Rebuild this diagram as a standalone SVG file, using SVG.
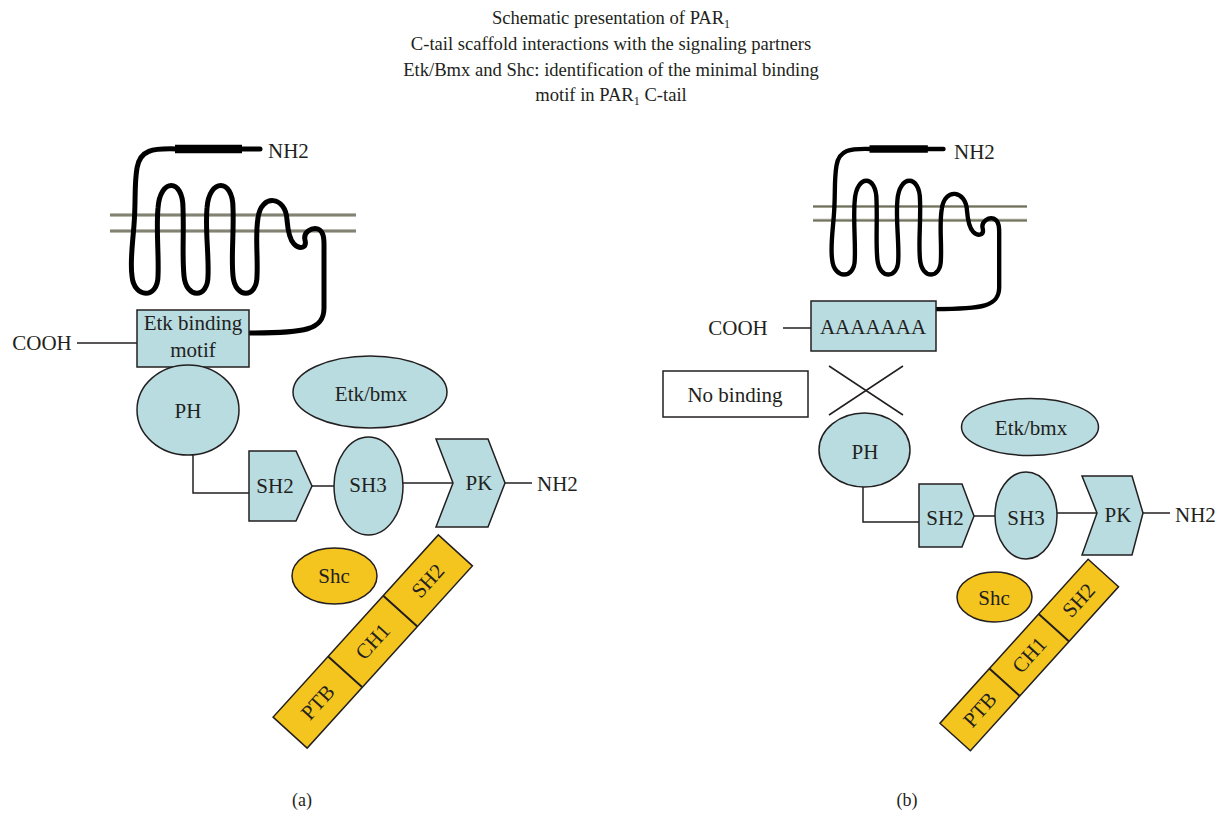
<svg xmlns="http://www.w3.org/2000/svg" xmlns:xlink="http://www.w3.org/1999/xlink" width="1222" height="822" viewBox="0 0 1222 822">
  <style>
    text { font-family: "Liberation Serif", "Times New Roman", serif; fill: #231f20; }
    .title { font-size: 18.6px; text-anchor: middle; }
    .lbl { font-size: 21px; text-anchor: middle; dominant-baseline: central; }
    .lbl-l { font-size: 21px; text-anchor: start; dominant-baseline: central; }
    .cap { font-size: 18px; text-anchor: middle; }
    .blue { fill: #b8dce0; stroke: #231f20; stroke-width: 1.5; }
    .yel { fill: #f5c51f; stroke: #231f20; stroke-width: 1.5; }
    .box { fill: #ffffff; stroke: #231f20; stroke-width: 1.5; }
    .wire { fill: none; stroke: #231f20; stroke-width: 1.5; }
    .div { fill: none; stroke: #231f20; stroke-width: 2; }
    .mem { fill: none; stroke: #a3a392; stroke-width: 3.5; }
    .mem-core { fill: none; stroke: #3a3a2c; stroke-width: 1; opacity: 0.6; }
    .tail { fill: none; stroke: #000; stroke-width: 5; stroke-linecap: round; stroke-linejoin: round; }
    .bar { fill: none; stroke: #000; stroke-width: 8.5; }
  </style>

  <defs>
    <!-- seven-pass receptor with membrane, drawn in panel (a) coordinates -->
    <g id="receptor">
      <path class="mem" d="M110 215 H356 M110 231 H356"/>
      <path class="mem-core" d="M110 215 H356 M110 231 H356"/>
      <path class="tail" d="M260 149 H240"/>
      <path class="bar" d="M242 149 H175"/>
      <path class="tail" d="M178 149
        C152 148 140 150 137 168
        C134 186 136 200 134 225
        C132 250 130 262 132 276
        C134 299 158 299 158 276
        C159 255 156 230 158 208
        C160 178 183 178 183 208
        C184 235 182 255 184 276
        C186 299 208 299 208 276
        C209 255 205 230 207 208
        C209 178 233 178 233 208
        C234 235 231 255 233 276
        C235 299 257 299 257 276
        C258 255 255 236 258 218
        C261 193 286 196 287 220
        C288 232 290 240 294 244
        C300 250 307 248 305 240
        C303 232 312 227 318 229
        C325 232 324 242 324 252
        L324 308
        C324 330 305 333 250 333"/>
    </g>
  </defs>

  <!-- title -->
  <g id="title">
    <text class="title" x="611" y="24">Schematic presentation of PAR<tspan font-size="12" dy="4">1</tspan></text>
    <text class="title" x="611" y="50">C-tail scaffold interactions with the signaling partners</text>
    <text class="title" x="611" y="76">Etk/Bmx and Shc: identification of the minimal binding</text>
    <text class="title" x="611" y="101">motif in PAR<tspan font-size="12" dy="4">1</tspan><tspan dy="-4"> C-tail</tspan></text>
  </g>

  <!-- connectors -->
  <g id="connectors">
    <!-- panel a -->
    <path class="wire" d="M77 343 H137"/>
    <path class="wire" d="M193 455 V493 H249"/>
    <path class="wire" d="M312 486 H334"/>
    <path class="wire" d="M403 483 H453"/>
    <path class="wire" d="M505 483 H532"/>
    <!-- panel b -->
    <path class="wire" d="M783 328 H811"/>
    <path class="wire" d="M863 487 V522 H919"/>
    <path class="wire" d="M974 516 H995"/>
    <path class="wire" d="M1057 513 H1097"/>
    <path class="wire" d="M1143 513 H1170"/>
    <path class="wire" d="M829 366 L903 415 M903 366 L829 415"/>
  </g>

  <!-- ===== panel (a) ===== -->
  <g id="a-receptor"><use xlink:href="#receptor" href="#receptor"/></g>
  <g id="a-nh2-top"><text class="lbl-l" x="268" y="151">NH2</text></g>
  <g id="a-cooh"><text class="lbl" x="42" y="343">COOH</text></g>
  <g id="a-motif">
    <rect class="blue" x="137" y="310" width="112" height="57"/>
    <text class="lbl" x="193" y="323">Etk binding</text>
    <text class="lbl" x="193" y="350">motif</text>
  </g>
  <g id="a-ph">
    <ellipse class="blue" cx="188" cy="410" rx="51" ry="45"/>
    <text class="lbl" x="188" y="411">PH</text>
  </g>
  <g id="a-etk">
    <ellipse class="blue" cx="370" cy="392" rx="77" ry="36"/>
    <text class="lbl" x="371" y="394">Etk/bmx</text>
  </g>
  <g id="a-sh2">
    <polygon class="blue" points="249,451 296,451 312,486 296,521 249,521"/>
    <text class="lbl" x="275" y="486">SH2</text>
  </g>
  <g id="a-sh3">
    <ellipse class="blue" cx="368.5" cy="486" rx="34.5" ry="49"/>
    <text class="lbl" x="368" y="485">SH3</text>
  </g>
  <g id="a-pk">
    <polygon class="blue" points="436,439 488,439 505,483 488,527 436,527 453,483"/>
    <text class="lbl" x="479" y="483">PK</text>
  </g>
  <g id="a-nh2"><text class="lbl-l" x="537" y="484">NH2</text></g>
  <g id="a-shc">
    <ellipse class="yel" cx="334.5" cy="576" rx="42.5" ry="28"/>
    <text class="lbl" x="334" y="576">Shc</text>
  </g>
  <g id="a-shc-domains" transform="translate(372.75 641.5) rotate(-47.8)">
    <rect class="yel" x="-123" y="-23" width="246" height="46"/>
    <path class="div" d="M-41 -23 V23 M41 -23 V23"/>
    <text class="lbl" x="-82" y="0">PTB</text>
    <text class="lbl" x="0" y="0">CH1</text>
    <text class="lbl" x="82" y="0">SH2</text>
  </g>
  <g id="a-caption"><text class="cap" x="302" y="806">(a)</text></g>

  <!-- ===== panel (b) ===== -->
  <g id="b-receptor"><use xlink:href="#receptor" href="#receptor" transform="translate(717.3 19.4) scale(0.87)"/></g>
  <g id="b-nh2-top"><text class="lbl-l" x="954" y="152">NH2</text></g>
  <g id="b-cooh"><text class="lbl" x="738" y="328">COOH</text></g>
  <g id="b-motif">
    <rect class="blue" x="811" y="301" width="125" height="50"/>
    <text class="lbl" x="873" y="327">AAAAAAA</text>
  </g>
  <g id="b-nobinding">
    <rect class="box" x="663" y="371" width="145" height="46"/>
    <text class="lbl" x="735" y="395">No binding</text>
  </g>
  <g id="b-ph">
    <ellipse class="blue" cx="864.5" cy="450" rx="45.5" ry="37"/>
    <text class="lbl" x="865" y="452">PH</text>
  </g>
  <g id="b-etk">
    <ellipse class="blue" cx="1030" cy="427" rx="68.5" ry="28.5"/>
    <text class="lbl" x="1031" y="428">Etk/bmx</text>
  </g>
  <g id="b-sh2">
    <polygon class="blue" points="919,484 962,484 974,516 962,547 919,547"/>
    <text class="lbl" x="945" y="518">SH2</text>
  </g>
  <g id="b-sh3">
    <ellipse class="blue" cx="1026" cy="515.5" rx="31" ry="43.5"/>
    <text class="lbl" x="1026" y="518">SH3</text>
  </g>
  <g id="b-pk">
    <polygon class="blue" points="1082,476 1132,476 1143,513 1132,555 1082,555 1097,513"/>
    <text class="lbl" x="1118" y="515">PK</text>
  </g>
  <g id="b-nh2"><text class="lbl-l" x="1175" y="515">NH2</text></g>
  <g id="b-shc">
    <ellipse class="yel" cx="994.5" cy="597" rx="37.5" ry="25"/>
    <text class="lbl" x="994" y="598">Shc</text>
  </g>
  <g id="b-shc-domains" transform="translate(1029.25 655) rotate(-47.9)">
    <rect class="yel" x="-110.5" y="-20.5" width="221" height="41"/>
    <path class="div" d="M-36.8 -20.5 V20.5 M36.8 -20.5 V20.5"/>
    <text class="lbl" x="-73.7" y="0">PTB</text>
    <text class="lbl" x="0" y="0">CH1</text>
    <text class="lbl" x="73.7" y="0">SH2</text>
  </g>
  <g id="b-caption"><text class="cap" x="907" y="806">(b)</text></g>
</svg>
